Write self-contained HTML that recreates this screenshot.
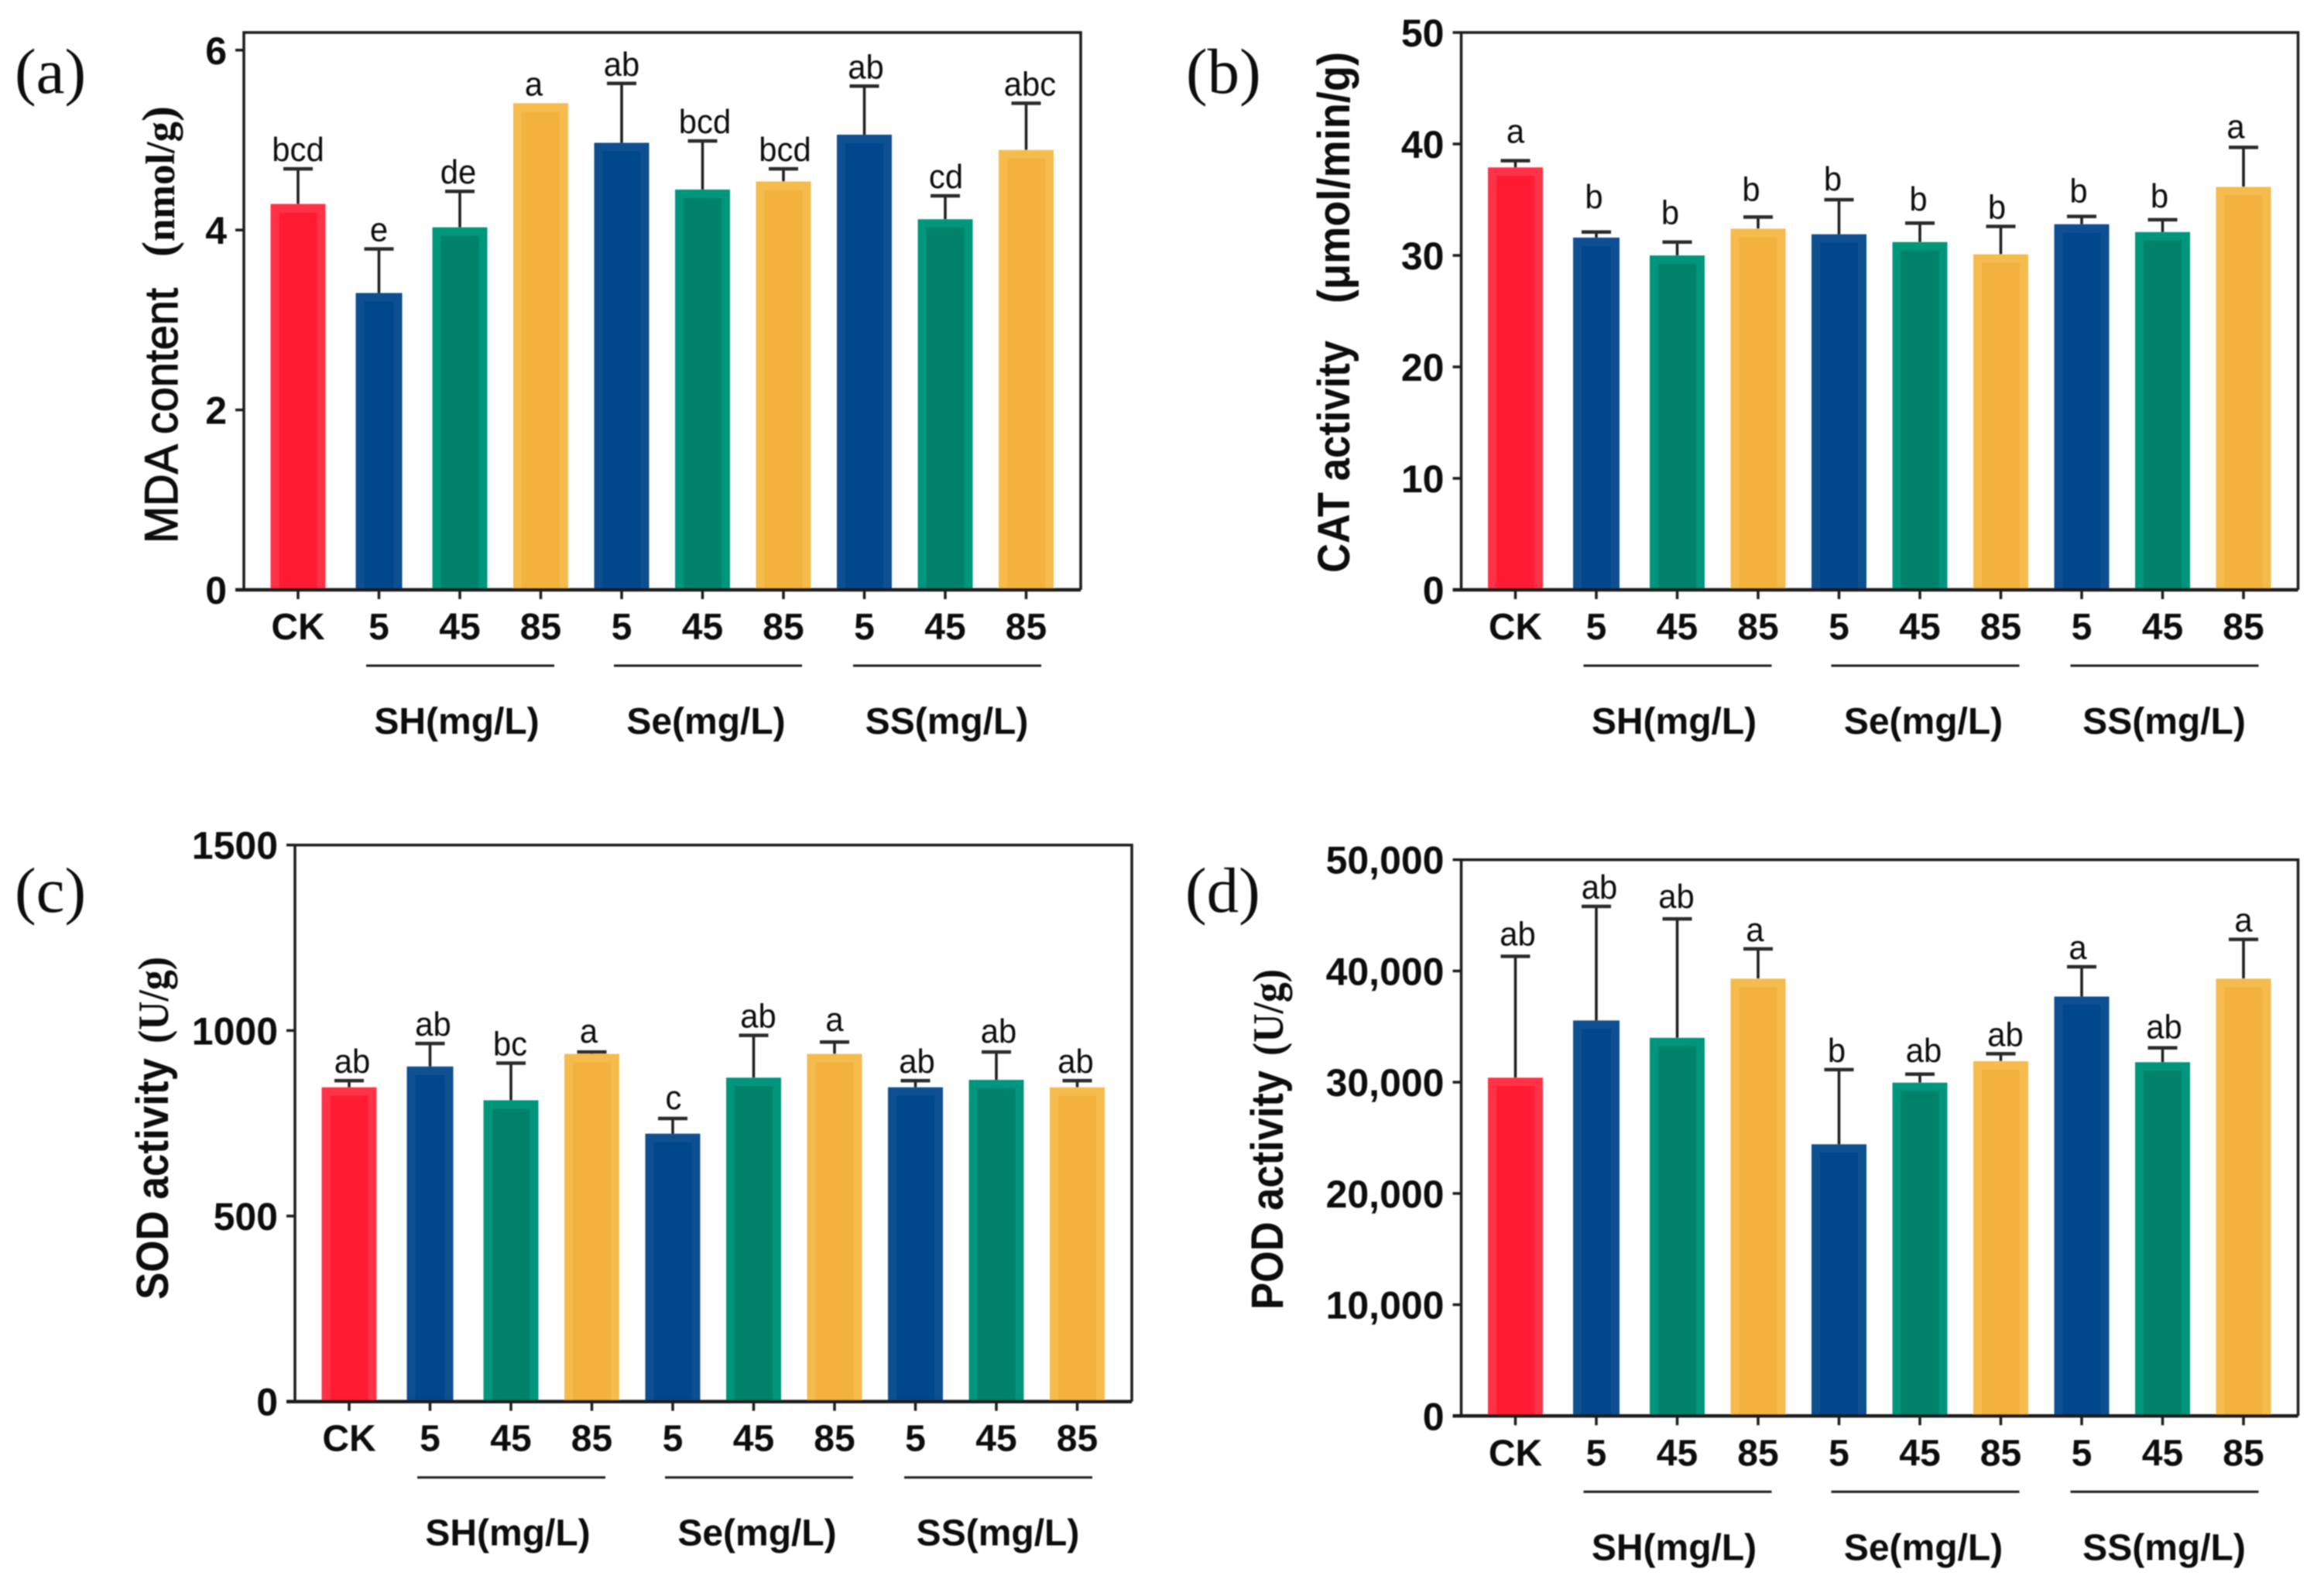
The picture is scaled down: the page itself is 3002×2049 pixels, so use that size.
<!DOCTYPE html>
<html lang="en">
<head>
<meta charset="utf-8">
<title>Antioxidant enzyme activity bar charts</title>
<style>
  html, body { margin: 0; padding: 0; background: #fff; }
  svg { display: block; }
  text { font-family: "Liberation Sans", Arial, sans-serif; fill: #111; }
  .serif { font-family: "Liberation Serif", "Times New Roman", serif; }
</style>
</head>
<body>
<svg id="figure" xmlns="http://www.w3.org/2000/svg" width="3002" height="2049" viewBox="0 0 3002 2049">
  <defs>
    <filter id="soft" filterUnits="userSpaceOnUse" x="0" y="0" width="3002" height="2049">
      <feGaussianBlur stdDeviation="0.8"/>
    </filter>
  </defs>
  <rect width="3002" height="2049" fill="#fff"/>
  <g id="root" filter="url(#soft)"></g>
</svg>
<script>
// ---------- shared categories ----------
const categories = ['CK', '5', '45', '85', '5', '45', '85', '5', '45', '85'];
const groupNames = ['SH(mg/L)', 'Se(mg/L)', 'SS(mg/L)'];

// ---------- panel (a) MDA ----------
const mdaValues = [4.29, 3.30, 4.03, 5.41, 4.97, 4.45, 4.54, 5.06, 4.12, 4.89];
const mdaErrors = [0.39, 0.49, 0.40, 0, 0.66, 0.54, 0.14, 0.54, 0.26, 0.52];
const mdaLetters = ['bcd', 'e', 'de', 'a', 'ab', 'bcd', 'bcd', 'ab', 'cd', 'abc'];
const mdaTicks = [0, 2, 4, 6];
const mdaTickLabels = ['0', '2', '4', '6'];

// ---------- panel (b) CAT ----------
const catValues = [37.9, 31.6, 30.0, 32.4, 31.9, 31.2, 30.1, 32.8, 32.1, 36.15];
const catErrors = [0.6, 0.5, 1.2, 1.05, 3.1, 1.7, 2.5, 0.7, 1.1, 3.55];
const catLetters = ['a', 'b', 'b', 'b', 'b', 'b', 'b', 'b', 'b', 'a'];
const catTicks = [0, 10, 20, 30, 40, 50];
const catTickLabels = ['0', '10', '20', '30', '40', '50'];

// ---------- panel (c) SOD ----------
const sodValues = [847, 903, 812, 937, 722, 873, 937, 847, 867, 847];
const sodErrors = [18, 62, 100, 5, 41, 114, 32, 18, 75, 18];
const sodLetters = ['ab', 'ab', 'bc', 'a', 'c', 'ab', 'a', 'ab', 'ab', 'ab'];
const sodTicks = [0, 500, 1000, 1500];
const sodTickLabels = ['0', '500', '1000', '1500'];

// ---------- panel (d) POD ----------
const podValues = [30410, 35550, 33990, 39310, 24420, 29960, 31890, 37700, 31800, 39310];
const podErrors = [10910, 10250, 10690, 2680, 6710, 760, 670, 2680, 1290, 3530];
const podLetters = ['ab', 'ab', 'ab', 'a', 'b', 'ab', 'ab', 'a', 'ab', 'a'];
const podTicks = [0, 10000, 20000, 30000, 40000, 50000];
const podTickLabels = ['0', '10,000', '20,000', '30,000', '40,000', '50,000'];

// ---------- bar palette by position ----------
const redBar = { core: '#ff1a33', edge: '#ff3346' };
const blueBar = { core: '#00468b', edge: '#0a4f91' };
const greenBar = { core: '#00826b', edge: '#00957d' };
const orangeBar = { core: '#f2b23d', edge: '#f6bb4e' };
const barStyles = [redBar, blueBar, greenBar, orangeBar, blueBar, greenBar, orangeBar, blueBar, greenBar, orangeBar];

const SVG_NS = 'http://www.w3.org/2000/svg';
const root = document.getElementById('root');

function make(tag, attrs, parent, content) {
  const node = document.createElementNS(SVG_NS, tag);
  for (const key in attrs) node.setAttribute(key, attrs[key]);
  if (content !== undefined) node.textContent = content;
  parent.appendChild(node);
  return node;
}

function drawPanel(panel) {
  const g = make('g', {}, root);
  
  

  const plotHeight = panel.bottom - panel.top;
  const domainMax = panel.domainMax;
  const yScale = function (v) { return panel.bottom - (v / domainMax) * plotHeight; };
  const step = 104.5;
  const xScale = function (i) { return panel.left + 70 + i * step; };
  const right = panel.left + 1081;

  // panel letter
  const tag = make('text', { x: panel.tagX, y: panel.tagY, 'font-size': 83, class: 'serif' }, g, panel.tag);
  
  

  // bars
  panel.values.forEach(function (value, i) {
    const style = barStyles[i];
    const width = i === 1 ? 60 : 71;
    const x = xScale(i) - width / 2;
    const y = yScale(value);
    const outer = make('rect', { x: x, y: y, width: width, height: panel.bottom - y, fill: style.edge }, g);
    
    
    const inner = make('rect', { x: x + 11, y: y + 11, width: width - 22, height: Math.max(panel.bottom - y - 11, 0), fill: style.core }, g);
    
    
  });

  // error bars and significance letters
  panel.values.forEach(function (value, i) {
    const cx = xScale(i);
    const error = panel.errors[i];
    const yTop = yScale(value + error);
    if (error > 0) {
      const stem = make('line', { x1: cx, x2: cx, y1: yScale(value), y2: yTop, stroke: '#1a1a1a', 'stroke-width': 3.5 }, g);
      
      
      const cap = make('line', { x1: cx - 19, x2: cx + 19, y1: yTop, y2: yTop, stroke: '#2a2a2a', 'stroke-width': 4.5 }, g);
      
      
    }
    const lx = cx + panel.letterNudge[i];
    const ly = yTop - 10 - panel.letterLift[i];
    const letter = make('text', { x: 0, y: 0, transform: 'translate(' + lx + ' ' + ly + ') scale(0.95 1)', 'font-size': 44, 'text-anchor': 'middle' }, g, panel.letters[i]);
    
    
  });

  // frame
  const frame = make('path', { d: 'M' + panel.left + ' ' + panel.bottom + 'V' + panel.top + 'H' + right + 'V' + panel.bottom, fill: 'none', stroke: '#1a1a1a', 'stroke-width': 3.5 }, g);
  
  
  const xAxis = make('line', { x1: panel.left - 11, x2: right, y1: panel.bottom, y2: panel.bottom, stroke: '#1a1a1a', 'stroke-width': 4.5 }, g);
  
  

  // y ticks
  panel.ticks.forEach(function (tick, i) {
    const y = yScale(tick);
    const mark = make('line', { x1: panel.left - 11, x2: panel.left, y1: y, y2: y, stroke: '#1a1a1a', 'stroke-width': 3.5 }, g);
    
    
    const label = make('text', { x: panel.left - 22, y: y + 18, 'font-size': 50, 'font-weight': 'bold', 'text-anchor': 'end' }, g, panel.tickLabels[i]);
    
    
  });

  // x ticks
  categories.forEach(function (name, i) {
    const x = xScale(i);
    const mark = make('line', { x1: x, x2: x, y1: panel.bottom, y2: panel.bottom + 12, stroke: '#1a1a1a', 'stroke-width': 3.5 }, g);
    
    
    const label = make('text', { x: x, y: panel.bottom + 64, 'font-size': 48, 'font-weight': 'bold', 'text-anchor': 'middle' }, g, name);
    
    
  });

  // group rules and names
  const ruleStart = [158, 478, 787];
  const ruleLength = 243;
  const nameCenter = [275, 597, 908];
  groupNames.forEach(function (name, i) {
    const x = panel.left + ruleStart[i];
    const rule = make('line', { x1: x, x2: x + ruleLength, y1: panel.bottom + 98, y2: panel.bottom + 98, stroke: '#1a1a1a', 'stroke-width': 3 }, g);
    
    
    const label = make('text', { x: panel.left + nameCenter[i], y: panel.bottom + 186, 'font-size': 48, 'font-weight': 'bold', 'text-anchor': 'middle' }, g, name);
    
    
  });

  // y-axis title, rotated pieces
  panel.titleParts.forEach(function (part, i) {
    const attrs = {
      x: 0, y: 0,
      transform: 'translate(' + part.x + ' ' + part.y + ') rotate(-90)',
      'font-size': part.size,
      'font-weight': part.weight,
      textLength: part.length,
      lengthAdjust: 'spacingAndGlyphs'
    };
    if (part.serif) attrs['class'] = 'serif';
    if (part.thicken) {
      attrs['stroke'] = '#111';
      attrs['stroke-width'] = part.thicken;
    }
    const title = make('text', attrs, g, part.text);
    
    
  });
}

drawPanel({
  id: 'mda', tag: '(a)', tagX: 19, tagY: 120,
  left: 315, top: 42, bottom: 762, domainMax: 6.196,
  values: mdaValues, errors: mdaErrors, letters: mdaLetters, ticks: mdaTicks, tickLabels: mdaTickLabels,
  letterNudge: [0, 0, -2, -9, 0, 3, 2, 2, 1, 5],
  letterLift: [0, 0, 0, 0, 0, 0, 0, 0, 0, 0],
  titleParts: [
    { text: 'MDA content', x: 229, y: 702, size: 60, weight: 'normal', length: 330, thicken: 1.2 },
    { text: '(', x: 225, y: 332, size: 60, weight: 'bold', length: 20, serif: true },
    { text: 'nmol/g', x: 225, y: 312, size: 53, weight: 'bold', length: 155, serif: true },
    { text: ')', x: 225, y: 157, size: 60, weight: 'bold', length: 20, serif: true }
  ]
});

drawPanel({
  id: 'cat', tag: '(b)', tagX: 1532, tagY: 120,
  left: 1887.5, top: 42, bottom: 762, domainMax: 50,
  values: catValues, errors: catErrors, letters: catLetters, ticks: catTicks, tickLabels: catTickLabels,
  letterNudge: [0, -3, -9, -9, -8, -2, -5, -4, -4, -10],
  letterLift: [13, 21, 13, 11, 2, 6, 0, 8, 6, 2],
  titleParts: [
    { text: 'CAT activity', x: 1743, y: 740, size: 58, weight: 'bold', length: 300 },
    { text: '(\u03bcmol/min/g)', x: 1743, y: 392, size: 58, weight: 'bold', length: 325 }
  ]
});

drawPanel({
  id: 'sod', tag: '(c)', tagX: 19, tagY: 1178,
  left: 381, top: 1091.7, bottom: 1810.7, domainMax: 1500,
  values: sodValues, errors: sodErrors, letters: sodLetters, ticks: sodTicks, tickLabels: sodTickLabels,
  letterNudge: [4, 4, -1, -4, 1, 6, 0, 2, 3, -2],
  letterLift: [0, 0, 0, 2, 2, 0, 4, 0, 2, 0],
  titleParts: [
    { text: 'SOD activity', x: 217, y: 1679, size: 58, weight: 'bold', length: 312 },
    { text: '(U/g)', x: 217, y: 1348, size: 56, weight: 'bold', length: 112, serif: true }
  ]
});

drawPanel({
  id: 'pod', tag: '(d)', tagX: 1531, tagY: 1178,
  left: 1887.5, top: 1110.7, bottom: 1829.3, domainMax: 50000,
  values: podValues, errors: podErrors, letters: podLetters, ticks: podTicks, tickLabels: podTickLabels,
  letterNudge: [3, 4, -1, -4, -3, 5, 6, -5, 2, 0],
  letterLift: [4, 0, 4, 0, 0, 6, 0, 0, 2, 0],
  titleParts: [
    { text: 'POD activity', x: 1657, y: 1692, size: 58, weight: 'bold', length: 309 },
    { text: '(U/g)', x: 1657, y: 1364, size: 56, weight: 'bold', length: 112, serif: true }
  ]
});
</script>
</body>
</html>
